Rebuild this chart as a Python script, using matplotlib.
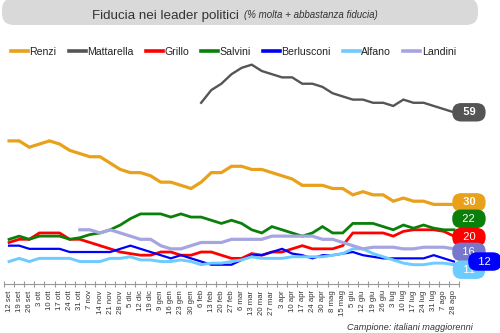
import matplotlib
matplotlib.use('Agg')
import numpy as np
import matplotlib.pyplot as plt
from matplotlib.patches import FancyBboxPatch
from matplotlib.lines import Line2D
from matplotlib.transforms import IdentityTransform

plt.rcParams['font.family'] = ['Liberation Sans', 'DejaVu Sans']

nan = np.nan
dates = ["12 set", "19 set", "26 set", "3 ott", "10 ott", "17 ott", "24 ott", "31 ott",
         "7 nov", "14 nov", "21 nov", "28 nov", "5 dic", "12 dic", "19 dic", "9 gen",
         "16 gen", "23 gen", "30 gen", "6 feb", "13 feb", "20 feb", "27 feb", "6 mar",
         "13 mar", "20 mar", "27 mar", "3 apr", "10 apr", "17 apr", "24 apr", "30 apr",
         "8 mag", "15 mag", "5 giu", "12 giu", "19 giu", "26 giu", "3 lug", "10 lug",
         "17 lug", "24 lug", "31 lug", "7 ago", "28 ago"]

renzi = [50, 50, 48, 49, 50, 49, 47, 46, 45, 45, 43, 41, 40, 40, 39, 37, 37, 36, 35, 37,
         40, 40, 42, 42, 41, 41, 40, 39, 38, 36, 36, 36, 35, 35, 33, 34, 33, 33, 31, 32,
         31, 31, 30, 30, 30]
mattarella = [nan] * 19 + [62, 66, 68, 71, 73, 74, 72, 71, 70, 70, 68, 68, 67, 65, 64, 63,
                           63, 62, 62, 61, 63, 62, 62, 61, 60, 59]
grillo = [18, 19, 19, 21, 21, 21, 19, 19, 18, 17, 16, 15, 14.5, 14, 14, 15, 15, 14, 14, 15,
          15, 14, 13, 13, 14.5, 14, 15, 15, 16, 17, 16, 16, 16, 17, 21, 21, 21, 21, 20, 21.5,
          22, 22, 22, 21.5, 20]
salvini = [19, 20, 19, 20, 20, 20, 19, 19.5, 20.5, 21, 22, 23.5, 25.5, 27, 27, 27, 26, 27, 26, 26,
           25, 24, 25, 24, 22, 21, 23, 22, 21, 20, 21, 23, 21, 21, 24, 24, 24, 23, 22, 23.5,
           22.5, 23.5, 22.5, 22, 22]
berlusconi = [17, 17, 16, 16, 16, 16, 15, 15, 15, 15, 15, 16, 17, 16, 15, 14, 13, 14, 13, 12,
              11, 11, 11, 12.5, 14, 14, 15, 16, 14.5, 14, 13, 14, 14, 14.5, 15, 14, 13.5, 13, 13, 13,
              13, 13, 14, 13, 12]
alfano = [12, 13, 12, 13, 13, 13, 13, 12, 12, 12, 13, 13, 13.5, 12.5, 12.5, 12, 12, 12.5, 12, 11,
          11.5, 11.5, 12, 12.5, 13.5, 13, 13, 13, 13.5, 13.5, 13.5, 13.5, 14, 14.5, 16, 16, 14.5, 13.5, 12.5, 11.5,
          11, 11, 11.5, 11.5, 11]
landini = [nan] * 7 + [22, 22, 21, 22, 21, 20, 19, 19, 17, 16, 16, 17, 18, 18, 18, 19, 19, 19,
                       19, 20, 20, 20, 20, 20, 19, 19, 18, 17, 16, 16.5, 16.5, 16.5, 16, 16, 16.5, 16.5,
                       16.5, 16]

names = ["Renzi", "Mattarella", "Grillo", "Salvini", "Berlusconi", "Alfano", "Landini"]
series = [renzi, mattarella, grillo, salvini, berlusconi, alfano, landini]
end_labels = ["30", "59", "20", "22", "12", "11", "16"]

colors = ["#E9A01A", "#555555", "#FF0000", "#0A800A", "#0000FF", "#6CCBFF", "#A5A5E2"]
bubble_colors = ["#E9A01A", "#555555", "#FF0000", "#0A800A", "#0000FF", "#6CCBFF", "#7777CC"]
widths = [2.3, 1.7, 2.0, 2.0, 1.6, 2.1, 2.3]
# bubble offsets in pixels (dx, dy) from last point
bubble_off = [(15, 2), (15, 0), (15, -1), (15, 11), (31, 0), (15, -5), (15, -3)]
bubble_bold = [True, True, False, False, False, False, False]

fig = plt.figure(figsize=(5, 3.33), dpi=100)
ax = fig.add_axes([0.008, 0.1471, 0.91, 0.6727])
x = np.arange(len(dates))
ax.set_xlim(-0.5, len(dates) - 0.5)
ax.set_ylim(4.92, 75.47)

for s, c, w in zip(series, colors, widths):
    ax.plot(x, s, color=c, lw=w, solid_joinstyle='miter', zorder=3)

order = [1, 0, 3, 2, 6, 5, 4]
for i in order:
    s = series[i]
    dx, dy = bubble_off[i]
    ax.annotate("  " + end_labels[i] + "  ", xy=(x[-1], s[-1]), xytext=(dx, dy),
                textcoords='offset pixels', ha='center', va='center',
                fontsize=8, color='white',
                fontweight='bold' if bubble_bold[i] else 'normal',
                bbox=dict(boxstyle='round,pad=0.38,rounding_size=0.8',
                          fc=bubble_colors[i], ec='none'),
                zorder=5, annotation_clip=False)

ax.set_xticks(x)
ax.set_xticklabels(dates, rotation=90, fontsize=5.6, color='#333333')
ax.set_xticks(np.arange(len(dates) + 1) - 0.5, minor=True)
ax.tick_params(axis='x', which='major', length=0, pad=4.5)
ax.tick_params(axis='x', which='minor', length=4, direction='inout', color='#999999', width=0.8)
ax.set_yticks([])
for sp in ['top', 'left', 'right']:
    ax.spines[sp].set_visible(False)
ax.spines['bottom'].set_color('#999999')
ax.spines['bottom'].set_linewidth(0.8)

# title box
box = FancyBboxPatch((2, 308), 476, 27, boxstyle='round,pad=0,rounding_size=12',
                     transform=IdentityTransform(), fc='#D9D9D9', ec='none')
fig.patches.append(box)
t1 = fig.text(92 / 500, 1 - 18.5 / 333, "Fiducia nei leader politici", fontsize=9.6,
              color='#333333', ha='left', va='baseline')
fig.canvas.draw()
r = fig.canvas.get_renderer()
bb = t1.get_window_extent(renderer=r)
fig.text((bb.x1 + 5) / 500, 1 - 18.5 / 333, "(% molta + abbastanza fiducia)", fontsize=7,
         style='italic', color='#333333', ha='left', va='baseline')

handles = [Line2D([0], [0], color=c, lw=2.6) for c in colors]
fig.legend(handles, names, ncol=7, loc='center', bbox_to_anchor=(0.467, 0.844),
           frameon=False, fontsize=7.6, handlelength=1.6, handletextpad=0.15,
           columnspacing=1.15, borderaxespad=0, labelcolor='#222222')

fig.text(0.946, 0.016, "Campione: italiani maggiorenni", ha='right', va='center',
         style='italic', fontsize=6.6, color='#333333')

fig.savefig('out.png', dpi=100)
